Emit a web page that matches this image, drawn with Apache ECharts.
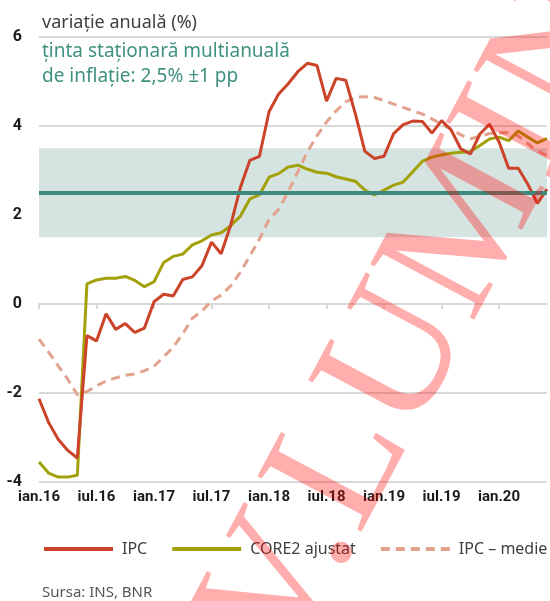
<!DOCTYPE html>
<html>
<head>
<meta charset="utf-8">
<script src="https://cdn.jsdelivr.net/npm/echarts@6/dist/echarts.min.js"></script>
<style>
html,body{margin:0;padding:0;background:#fff;}
#chart{width:550px;height:601px;}
</style>
</head>
<body>
<div id="chart"></div>
<script>
var months = ['2016-01','2016-02','2016-03','2016-04','2016-05','2016-06','2016-07','2016-08','2016-09','2016-10','2016-11','2016-12',
  '2017-01','2017-02','2017-03','2017-04','2017-05','2017-06','2017-07','2017-08','2017-09','2017-10','2017-11','2017-12',
  '2018-01','2018-02','2018-03','2018-04','2018-05','2018-06','2018-07','2018-08','2018-09','2018-10','2018-11','2018-12',
  '2019-01','2019-02','2019-03','2019-04','2019-05','2019-06','2019-07','2019-08','2019-09','2019-10','2019-11','2019-12',
  '2020-01','2020-02','2020-03','2020-04','2020-05','2020-06'];
var tickLabels = ['ian.16','iul.16','ian.17','iul.17','ian.18','iul.18','ian.19','iul.19','ian.20'];
var ipc = [-2.13,-2.66,-3.04,-3.29,-3.46,-0.71,-0.83,-0.22,-0.57,-0.44,-0.64,-0.54,
  0.05,0.22,0.18,0.55,0.61,0.86,1.39,1.13,1.77,2.61,3.23,3.32,
  4.32,4.72,4.95,5.22,5.41,5.36,4.56,5.07,5.03,4.28,3.43,3.27,
  3.32,3.83,4.03,4.11,4.10,3.84,4.12,3.91,3.49,3.37,3.82,4.04,
  3.64,3.05,3.05,2.69,2.26,2.58];
var core2 = [-3.55,-3.80,-3.89,-3.89,-3.85,0.45,0.54,0.58,0.58,0.62,0.53,0.39,
  0.50,0.93,1.07,1.12,1.33,1.42,1.55,1.60,1.76,1.97,2.36,2.45,
  2.85,2.93,3.08,3.12,3.03,2.96,2.94,2.86,2.81,2.76,2.56,2.45,
  2.56,2.67,2.74,2.97,3.21,3.30,3.35,3.39,3.41,3.42,3.56,3.71,
  3.75,3.67,3.89,3.75,3.62,3.72];
var ipcMedie = [-0.79,-1.08,-1.39,-1.69,-2.04,-1.97,-1.84,-1.73,-1.66,-1.60,-1.57,-1.50,
  -1.40,-1.19,-0.97,-0.67,-0.32,-0.16,0.07,0.20,0.41,0.71,1.08,1.46,
  1.90,2.13,2.52,2.97,3.42,3.78,4.09,4.34,4.54,4.65,4.66,4.64,
  4.57,4.49,4.42,4.34,4.27,4.16,4.04,3.93,3.80,3.71,3.77,3.83,
  3.85,3.85,3.78,3.60,3.44,3.33];
var targetCenter = 2.5;
var targetBand = [1.5, 3.5];
var yTicks = {min: -4, max: 6, interval: 2};

var chart = echarts.init(document.getElementById('chart'), null, {renderer: 'canvas'});
var lbl = 'Roboto, "Liberation Sans", sans-serif';
var sans = '"Noto Sans", "Open Sans", sans-serif';

chart.setOption({
  animation: false,
  backgroundColor: '#ffffff',
  grid: {left: 39, right: 3, top: 37, bottom: 119, containLabel: false},
  legend: {
    left: 42, top: 541, width: 700, padding: 0,
    itemWidth: 69, itemHeight: 14, itemGap: 23,
    itemStyle: {opacity: 0},
    lineStyle: {width: 4},
    data: ['IPC', 'CORE2 ajustat', 'IPC – medie'],
    textStyle: {fontFamily: sans, fontSize: 16, color: '#404040', padding: [0, 0, 0, 4]}
  },
  xAxis: {
    type: 'category',
    data: months,
    boundaryGap: false,
    axisLine: {onZero: true, lineStyle: {color: '#d9d9d9', width: 2}},
    axisTick: {show: true, interval: 5, length: 5, lineStyle: {color: '#d9d9d9', width: 2}},
    axisLabel: {
      show: true, interval: 5,
      fontFamily: lbl, fontSize: 15, fontWeight: 'bold', color: '#1a1a1a',
      formatter: function (v, i) { return tickLabels[Math.round(i / 6)] || ''; }
    },
    splitLine: {show: false}
  },
  yAxis: {
    type: 'value',
    min: yTicks.min, max: yTicks.max, interval: yTicks.interval,
    axisLine: {show: false},
    axisTick: {show: false},
    axisLabel: {margin: 17, fontFamily: lbl, fontSize: 16, fontWeight: 'bold', color: '#1a1a1a'},
    splitLine: {lineStyle: {color: '#d9d9d9', width: 2}}
  },
  series: [{
    name: 'IPC',
    type: 'line',
    data: ipc,
    symbol: 'none',
    z: 4,
    lineStyle: {color: '#cb4329', width: 3},
    itemStyle: {color: '#cb4329'},
    markArea: {
      silent: true,
      itemStyle: {color: '#d6e4e1'},
      data: [[{yAxis: targetBand[0]}, {yAxis: targetBand[1]}]]
    },
    markLine: {
      silent: true, symbol: 'none', label: {show: false},
      lineStyle: {color: '#3d8a7d', width: 4, type: 'solid'},
      data: [{yAxis: targetCenter}]
    }
  }, {
    name: 'CORE2 ajustat',
    type: 'line',
    data: core2,
    symbol: 'none',
    z: 3,
    lineStyle: {color: '#a3a10a', width: 3},
    itemStyle: {color: '#a3a10a'}
  }, {
    name: 'IPC – medie',
    type: 'line',
    data: ipcMedie,
    symbol: 'none',
    z: 2,
    lineStyle: {color: '#e2a28e', width: 3, type: [9, 6]},
    itemStyle: {color: '#e2a28e'}
  }],
  graphic: [{
    type: 'text', left: 42, top: 14,
    style: {text: 'variație anuală (%)', font: '18px ' + sans, fill: '#404040'}
  }, {
    type: 'text', left: 42, top: 39,
    style: {text: 'ținta staționară multianuală\nde inflație: 2,5% ±1 pp', font: '19px ' + sans, fill: '#3f9180', lineHeight: 25}
  }, {
    type: 'text', left: 42, top: 585,
    style: {text: 'Sursa: INS, BNR', font: '15px ' + sans, fill: '#555555'}
  }, {
    type: 'text', x: 246, y: 648, rotation: 62 * Math.PI / 180, z: 100,
    style: {text: 'V.LUMINA', font: '180px "Liberation Serif", "DejaVu Serif", serif',
      fill: 'rgba(255,0,0,0.32)', textAlign: 'left', textVerticalAlign: 'middle'}
  }]
});
</script>
</body>
</html>
